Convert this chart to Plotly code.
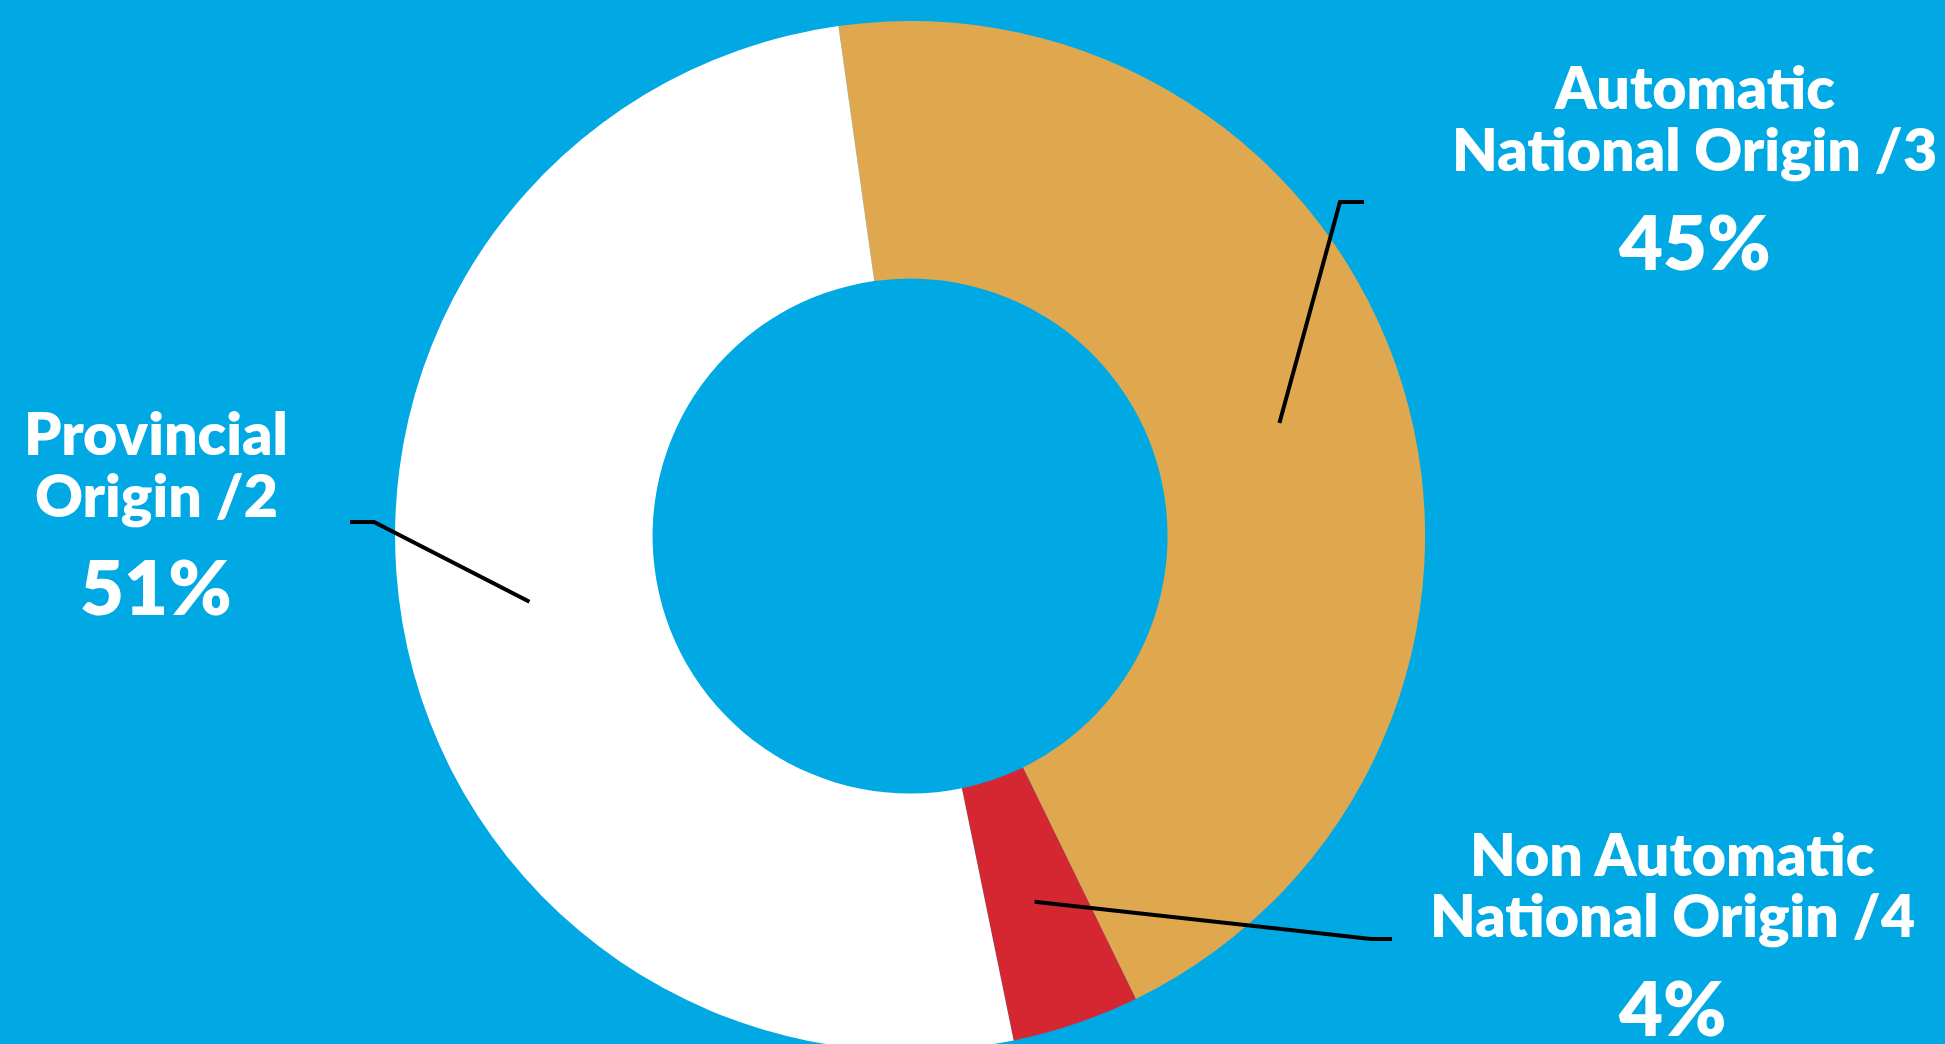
import math
import plotly.graph_objects as go

# ---- data ----
categories = ["Automatic National Origin /3", "Non Automatic National Origin /4", "Provincial Origin /2"]
label_lines = [["Automatic", "National Origin /3"], ["Non Automatic", "National Origin /4"], ["Provincial", "Origin /2"]]
values = [45, 4, 51]
pct_labels = ["45%", "4%", "51%"]

# ---- style ----
W, H = 1945, 1051   # page is 1051 tall; window shows top 1044 (ring bottom is clipped like the original)
BG = "#00A8E4"
COLORS = ["#DFA84E", "#D52731", "#FFFFFF"]
ROTATION = -8  # first slice starts 8 deg left of 12 o'clock, clockwise
HOLE = 0.5
dom_x = [0.2031, 0.7327]
dom_y = [0.0, 0.98]

# label placements (pixel coords from top-left): centre x, line y's, pct y, elbow x,y, tick end x
label_layout = [
    dict(cx=1694, ys=[87, 148], py=240, elbow=(1340, 202), tick=1364),
    dict(cx=1672, ys=[853, 914], py=1006, elbow=(1371, 939), tick=1392),
    dict(cx=156, ys=[432, 494], py=585, elbow=(374, 522), tick=350),
]

def px(x):
    return x / W

def py(y):
    return 1 - y / H

fig = go.Figure(go.Pie(
    labels=categories, values=values, sort=False, direction="clockwise",
    rotation=ROTATION, hole=HOLE, marker=dict(colors=COLORS, line=dict(width=0)),
    textinfo="none", hoverinfo="label+percent", showlegend=False,
    domain=dict(x=dom_x, y=dom_y),
))

# pie geometry in pixels
cx_pix = (dom_x[0] + dom_x[1]) / 2 * W
cy_pix = H - (dom_y[0] + dom_y[1]) / 2 * H
R = min((dom_x[1] - dom_x[0]) * W, (dom_y[1] - dom_y[0]) * H) / 2
r_mid = R * (1 + HOLE) / 2

total = sum(values)
start = ROTATION
font_lbl = dict(family="Lato", size=59, color="white", weight=800)
font_pct = dict(family="Lato", size=76, color="white", weight=800)
for i, v in enumerate(values):
    ang = start + v / total * 360 / 2
    start += v / total * 360
    a = math.radians(ang)
    sx = cx_pix + r_mid * math.sin(a)
    sy = cy_pix - r_mid * math.cos(a)
    lay = label_layout[i]
    ex, ey = lay["elbow"]
    fig.add_shape(type="path", xref="paper", yref="paper",
                  path=f"M {px(sx)} {py(sy)} L {px(ex)} {py(ey)} L {px(lay['tick'])} {py(ey)}",
                  line=dict(color="black", width=4))
    for txt, yy in zip(label_lines[i], lay["ys"]):
        fig.add_annotation(x=px(lay["cx"]), y=py(yy), xref="paper", yref="paper",
                           text=txt, showarrow=False, xanchor="center", yanchor="middle",
                           font=font_lbl)
    fig.add_annotation(x=px(lay["cx"]), y=py(lay["py"]), xref="paper", yref="paper",
                       text=pct_labels[i], showarrow=False, xanchor="center", yanchor="middle",
                       font=font_pct)

fig.update_layout(width=W, height=H, margin=dict(l=0, r=0, t=0, b=0),
                  paper_bgcolor=BG, plot_bgcolor=BG)
fig.write_html("out.html", config={"displayModeBar": False},
               post_script="document.body.style.margin='0';document.body.style.overflow='hidden';")
